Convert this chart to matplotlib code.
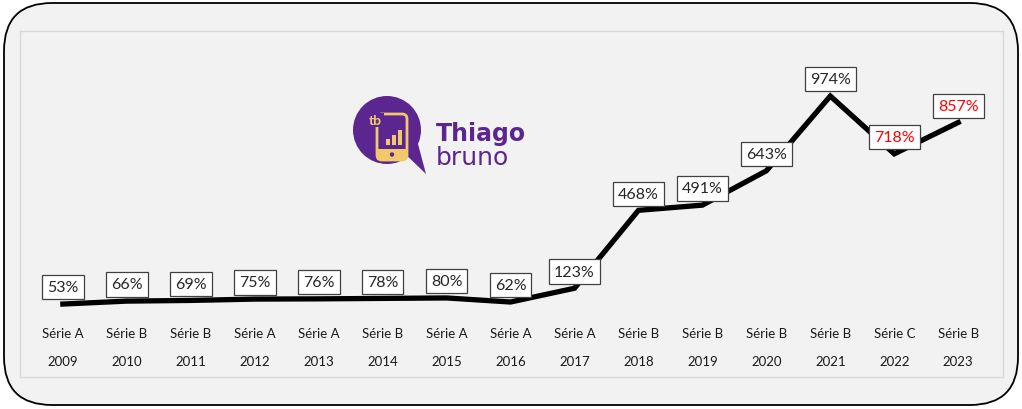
import matplotlib.pyplot as plt
import matplotlib.transforms as mtransforms
from matplotlib.patches import FancyBboxPatch, Circle, Polygon, Rectangle

plt.rcParams['font.family'] = ['Lato', 'DejaVu Sans']

anos = ['2009', '2010', '2011', '2012', '2013', '2014', '2015', '2016',
        '2017', '2018', '2019', '2020', '2021', '2022', '2023']
series = ['Série A', 'Série B', 'Série B', 'Série A', 'Série A', 'Série B', 'Série A', 'Série A',
          'Série A', 'Série B', 'Série B', 'Série B', 'Série B', 'Série C', 'Série B']
valores = [53, 66, 69, 75, 76, 78, 80, 62, 123, 468, 491, 643, 974, 718, 857]
destaque = [False] * 13 + [True, True]

W, H = 1022, 410
fig = plt.figure(figsize=(W / 100, H / 100), dpi=100)

# fundo com borda arredondada
bg = fig.add_axes([0, 0, 1, 1], zorder=0)
bg.set_xlim(0, W)
bg.set_ylim(H, 0)
bg.axis('off')
bg.add_patch(FancyBboxPatch((4, 4), W - 8, H - 8,
                            boxstyle='round,pad=0,rounding_size=48',
                            fc='#f2f2f2', ec='black', lw=1.3))

# area do grafico
ax = fig.add_axes([20 / W, (H - 378) / H, 983 / W, 346 / H], zorder=1)
ax.patch.set_alpha(0)
for s in ax.spines.values():
    s.set_color('#d9d9d9')
    s.set_linewidth(1)
ax.set_xticks([])
ax.set_yticks([])
ax.set_xlim(-0.67, 14.7)
ax.set_ylim(-270, 1262)

x = list(range(len(valores)))
ax.plot(x, valores, color='black', lw=3.8, solid_joinstyle='miter', zorder=2)

for i, v in enumerate(valores):
    cor = '#ff0000' if destaque[i] else '#262626'
    ax.annotate(f'{v}%', (i, v), xytext=(0, 12), textcoords='offset points',
                ha='center', va='center', fontsize=11.5, color=cor, zorder=3,
                bbox=dict(boxstyle='square,pad=0.32', fc='white', ec='#404040', lw=0.9))

trans = mtransforms.blended_transform_factory(ax.transData, ax.transAxes)
for i in x:
    ax.text(i, 0.127, series[i], transform=trans, ha='center', va='center',
            fontsize=9.5, color='#1a1a1a')
    ax.text(i, 0.046, anos[i], transform=trans, ha='center', va='center',
            fontsize=9.5, color='#1a1a1a')

# logo
lg = fig.add_axes([0, 0, 1, 1], zorder=2)
lg.set_xlim(0, W)
lg.set_ylim(H, 0)
lg.axis('off')
roxo = '#5b2690'
ouro = '#f2c96a'
lg.add_patch(Circle((387, 131), 34, fc=roxo, ec='none'))
lg.add_patch(Polygon([[400, 150], [426, 175], [418, 145]], closed=True, fc=roxo, ec='none'))
lg.add_patch(FancyBboxPatch((377, 115), 30, 46, boxstyle='round,pad=0,rounding_size=5',
                            fc='none', ec=ouro, lw=2))
lg.add_patch(Rectangle((377, 150), 30, 11, fc=ouro, ec='none'))
lg.add_patch(Circle((392, 155.5), 2.2, fc=roxo, ec='none'))
for bx, bh in zip([386, 392, 398], [6, 10, 15]):
    lg.add_patch(Rectangle((bx, 146 - bh), 3.5, bh, fc=ouro, ec='none'))
lg.add_patch(Rectangle((366, 114), 18, 14, fc=roxo, ec='none'))
lg.text(375, 121, 'tb', ha='center', va='center', fontsize=10, fontweight='bold', color=ouro)
lg.text(436, 134, 'Thiago', ha='left', va='center', fontsize=17,
        fontweight='bold', color=roxo, family='DejaVu Sans')
lg.text(436, 158, 'bruno', ha='left', va='center', fontsize=18,
        color=roxo, family='DejaVu Sans')

fig.savefig('out.png', dpi=100)
